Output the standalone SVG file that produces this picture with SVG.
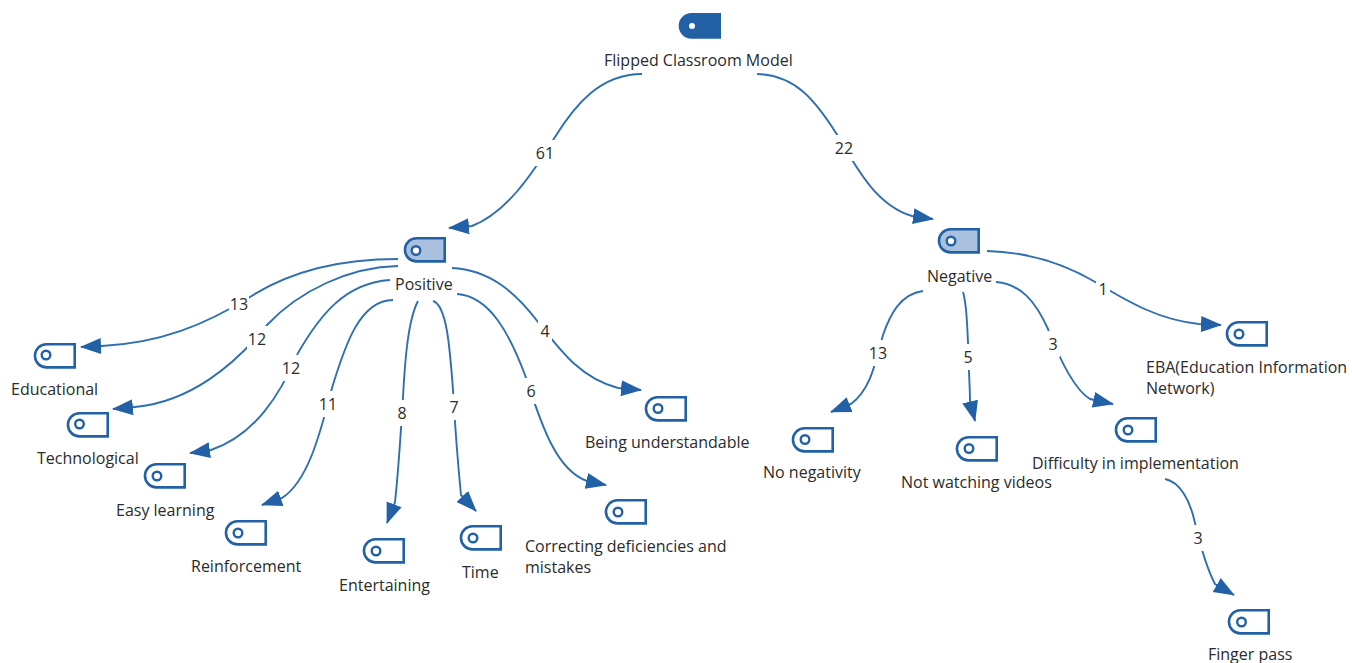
<svg xmlns="http://www.w3.org/2000/svg" xmlns:xlink="http://www.w3.org/1999/xlink" width="1352" height="663" viewBox="0 0 1352 663">
<style>
text{font-family:"Open Sans","Noto Sans","DejaVu Sans",sans-serif;font-size:16px;fill:#2b2b2b}
.c path{fill:none;stroke:#2f6fb0;stroke-width:1.9;marker-end:url(#a)}
.c rect{fill:#fff}
.c text{text-anchor:middle}
.t{fill:#fff;stroke:#2361a6;stroke-width:2.6}
.o{fill:#fff;stroke:#2361a6;stroke-width:2.4}
.m{fill:#a9c1de}
.r{fill:#2361a6}
.rd{fill:#fff}
</style>
<defs>
<marker id="a" markerUnits="userSpaceOnUse" markerWidth="24" markerHeight="18" refX="20" refY="9" orient="auto"><path d="M0 1L21 9L0 17Z" fill="#2361a6"/></marker>
<path id="s" d="M12.5 1.3H40.7V24.4H12.5A11.55 11.55 0 0 1 12.5 1.3Z"/>
</defs>
<rect width="1352" height="663" fill="#fff"/>
<g class="c" id="connectors">
<path d="M642 74C600 74 575 105 555 137C530 178 505 213 472 226L449 228"/>
<path d="M757 74C795 75 815 100 836 133C855 165 875 205 912 216L933 219"/>
<path d="M398 259C350 259 295 268 250 297C205 325 160 343 102 346L81 347"/>
<path d="M398 266C350 267 300 290 267 325C235 365 190 402 135 407L113 409"/>
<path d="M390 280C345 283 320 315 298 353C280 395 255 435 211 450L190 453"/>
<path d="M393 300C360 300 345 345 332 388C322 425 310 480 282 498L262 505"/>
<path d="M418 301C408 320 405 360 403 397C401 430 398 475 395 502L387 523"/>
<path d="M433 301C447 305 450 350 453 390C455 425 458 465 461 495L476 511"/>
<path d="M457 294C490 296 510 335 525 375C540 420 555 470 587 481L606 485"/>
<path d="M452 268C490 270 515 292 538 322C560 350 580 378 618 388L641 390"/>
<path d="M923 291C900 294 890 315 883 335C875 365 870 390 851 404L831 412"/>
<path d="M963 292C967 305 967 325 968 342C968 360 970 385 970 401L975 421"/>
<path d="M996 282C1020 284 1035 300 1048 329C1060 360 1075 390 1090 399L1113 404"/>
<path d="M987 251C1030 252 1065 264 1097 283C1130 303 1160 320 1199 324L1221 325"/>
<path d="M1165 479C1180 482 1190 500 1195 523C1199 540 1205 565 1215 584L1234 595"/>
<rect x="535" y="140" width="20" height="26"/><text x="545" y="159">61</text>
<rect x="834" y="135" width="20" height="26"/><text x="844" y="154">22</text>
<rect x="229" y="291" width="20" height="26"/><text x="239" y="310">13</text>
<rect x="247" y="326" width="20" height="26"/><text x="257" y="345">12</text>
<rect x="281" y="355" width="20" height="26"/><text x="291" y="374">12</text>
<rect x="318" y="391" width="20" height="26"/><text x="328" y="410">11</text>
<rect x="395" y="400" width="14" height="26"/><text x="402" y="419">8</text>
<rect x="447" y="394" width="14" height="26"/><text x="454" y="413">7</text>
<rect x="524" y="378" width="14" height="26"/><text x="531" y="397">6</text>
<rect x="538" y="318" width="14" height="26"/><text x="545" y="337">4</text>
<rect x="868" y="340" width="20" height="26"/><text x="878" y="359">13</text>
<rect x="961" y="344" width="14" height="26"/><text x="968" y="363">5</text>
<rect x="1046" y="331" width="14" height="26"/><text x="1053" y="350">3</text>
<rect x="1096" y="276" width="14" height="26"/><text x="1103" y="295">1</text>
<rect x="1191" y="525" width="14" height="26"/><text x="1198" y="544">3</text>
</g>
<g id="n-root"><use xlink:href="#s" href="#s" class="t r" transform="translate(679,13)"/><circle class="rd" cx="692" cy="26" r="3"/><text x="604" y="66">Flipped Classroom Model</text></g>
<g id="n-positive"><use xlink:href="#s" href="#s" class="t m" transform="translate(404,237)"/><circle class="o" cx="416" cy="250.500" r="4.300"/><text x="395" y="290">Positive</text></g>
<g id="n-negative"><use xlink:href="#s" href="#s" class="t m" transform="translate(938,228)"/><circle class="o" cx="951" cy="241" r="4.300"/><text x="927" y="282">Negative</text></g>
<g id="n-educational"><use xlink:href="#s" href="#s" class="t" transform="translate(34,343)"/><circle class="o" cx="46" cy="355" r="4.300"/><text x="11" y="395">Educational</text></g>
<g id="n-technological"><use xlink:href="#s" href="#s" class="t" transform="translate(67,412)"/><circle class="o" cx="79.500" cy="424" r="4.300"/><text x="37" y="464">Technological</text></g>
<g id="n-easy"><use xlink:href="#s" href="#s" class="t" transform="translate(144,463)"/><circle class="o" cx="157" cy="476" r="4.300"/><text x="116" y="516">Easy learning</text></g>
<g id="n-reinforcement"><use xlink:href="#s" href="#s" class="t" transform="translate(225,520)"/><circle class="o" cx="238" cy="533" r="4.300"/><text x="191" y="572">Reinforcement</text></g>
<g id="n-entertaining"><use xlink:href="#s" href="#s" class="t" transform="translate(363,538)"/><circle class="o" cx="376" cy="551" r="4.300"/><text x="339" y="591">Entertaining</text></g>
<g id="n-time"><use xlink:href="#s" href="#s" class="t" transform="translate(460,525)"/><circle class="o" cx="473" cy="538" r="4.300"/><text x="462" y="578">Time</text></g>
<g id="n-correcting"><use xlink:href="#s" href="#s" class="t" transform="translate(605,499)"/><circle class="o" cx="618" cy="512" r="4.300"/><text x="525" y="552">Correcting deficiencies and</text><text x="525" y="573">mistakes</text></g>
<g id="n-understandable"><use xlink:href="#s" href="#s" class="t" transform="translate(645,396)"/><circle class="o" cx="658" cy="408.500" r="4.300"/><text x="585" y="448">Being understandable</text></g>
<g id="n-nonegativity"><use xlink:href="#s" href="#s" class="t" transform="translate(792,427)"/><circle class="o" cx="805" cy="439.500" r="4.300"/><text x="763" y="478">No negativity</text></g>
<g id="n-notwatching"><use xlink:href="#s" href="#s" class="t" transform="translate(956,436)"/><circle class="o" cx="969" cy="448.500" r="4.300"/><text x="901" y="488">Not watching videos</text></g>
<g id="n-difficulty"><use xlink:href="#s" href="#s" class="t" transform="translate(1115,417)"/><circle class="o" cx="1128" cy="430" r="4.300"/><text x="1032" y="469">Difficulty in implementation</text></g>
<g id="n-eba"><use xlink:href="#s" href="#s" class="t" transform="translate(1226,321)"/><circle class="o" cx="1239" cy="334" r="4.300"/><text x="1146" y="373">EBA(Education Information</text><text x="1146" y="394">Network)</text></g>
<g id="n-finger"><use xlink:href="#s" href="#s" class="t" transform="translate(1228,609)"/><circle class="o" cx="1241.500" cy="622" r="4.300"/><text x="1208" y="660">Finger pass</text></g>
</svg>
